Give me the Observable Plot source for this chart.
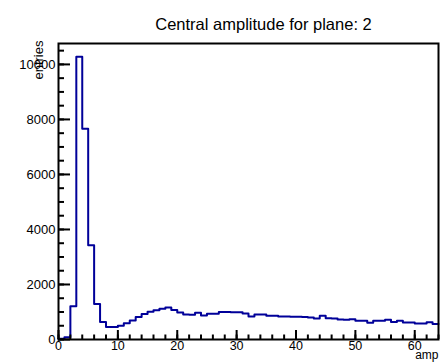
<!DOCTYPE html>
<html>
<head>
<meta charset="utf-8">
<script src="https://cdn.jsdelivr.net/npm/d3@7"></script>
<script src="https://cdn.jsdelivr.net/npm/@observablehq/plot@0.6"></script>
<style>
  html, body { margin: 0; padding: 0; background: #fff; }
  #chart svg { display: block; }
</style>
</head>
<body>
<div id="chart"></div>
<script>
// Histogram bin contents, bins of width 1 from 0 to 64
const binCounts = [
  30, 80, 1210, 10280, 7660, 3430, 1290, 640, 450, 450,
  500, 590, 690, 820, 930, 1005, 1060, 1120, 1160, 1070,
  980, 910, 900, 970, 870, 940, 940, 1000, 1000, 995,
  990, 945, 840, 905, 905, 860, 860, 840, 835, 830,
  830, 820, 800, 760, 860, 770, 760, 730, 720, 740,
  680, 680, 605, 680, 680, 720, 640, 680, 620, 620,
  580, 580, 630, 560
];
const binWidth = 1;
const xDomain = [0, 64];
const yDomain = [0, 10760];

const xMajorTicks = [0, 10, 20, 30, 40, 50, 60];
const xMinorTicks = d3.range(0, 65, 2);
const yMajorTicks = [0, 2000, 4000, 6000, 8000, 10000];
const yMinorTicks = d3.range(0, 10760, 500);

const titleText = "Central amplitude for plane: 2";
const xTitle = "amp";
const yTitle = "entries";

// step outline points (bin low edges plus last upper edge)
const steps = binCounts.map((v, i) => ({x: i * binWidth, y: v}));
steps.push({x: binCounts.length * binWidth, y: binCounts[binCounts.length - 1]});

const W = 440, H = 364;
const mL = 58, mR = 2, mT = 43, mB = 25;
const plotW = W - mL - mR, plotH = H - mT - mB;

const chart = Plot.plot({
  width: W,
  height: H,
  marginLeft: mL,
  marginRight: mR,
  marginTop: mT,
  marginBottom: mB,
  style: {fontFamily: "'Liberation Sans', Arial, Helvetica, sans-serif", fontSize: "13px", color: "black", background: "white"},
  x: {domain: xDomain, label: null},
  y: {domain: yDomain, label: null},
  marks: [
    Plot.lineY(steps, {x: "x", y: "y", curve: "step-after", stroke: "#000099", strokeWidth: 2}),
    // inner ticks
    Plot.tickX(xMinorTicks, {x: d => d, insetTop: plotH - 4.5, stroke: "black", strokeWidth: 2}),
    Plot.tickX(xMajorTicks, {x: d => d, insetTop: plotH - 9, stroke: "black", strokeWidth: 2}),
    Plot.tickY(yMinorTicks, {y: d => d, insetRight: plotW - 6, stroke: "black", strokeWidth: 2}),
    Plot.tickY(yMajorTicks, {y: d => d, insetRight: plotW - 12, stroke: "black", strokeWidth: 2}),
    Plot.frame({stroke: "black", strokeWidth: 2}),
    Plot.axisX({ticks: xMajorTicks, tickSize: 0, tickPadding: 2, tickFormat: d => String(d), fontSize: 12.5, label: null}),
    Plot.axisY({ticks: yMajorTicks, tickSize: 0, tickPadding: 3, tickFormat: d => String(d), fontSize: 13, label: null}),
    Plot.text([yTitle], {frameAnchor: "top-left", text: d => d, rotate: -90, textAnchor: "end", dx: -25, dy: -3, fontSize: 13}),
    Plot.text([xTitle], {frameAnchor: "bottom-right", text: d => d, textAnchor: "end", dy: 19.5, fontSize: 12}),
    Plot.text([titleText], {frameAnchor: "top-left", text: d => d, textAnchor: "middle", dx: 205, dy: -25, fontSize: 16.5})
  ]
});
document.getElementById("chart").appendChild(chart);
</script>
</body>
</html>
